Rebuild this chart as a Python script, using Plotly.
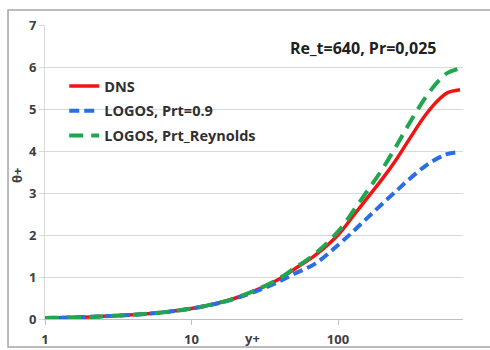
import plotly.graph_objects as go

y_plus = [1, 2, 3, 5, 7, 10, 15, 20, 30, 40, 50, 70, 100, 130, 160, 200, 250, 300, 400, 500, 560, 680]
theta_dns = [0.025, 0.05, 0.075, 0.125, 0.175, 0.25, 0.375, 0.5, 0.74, 0.96, 1.18, 1.52, 2.00, 2.50, 2.90, 3.33, 3.80, 4.23, 4.88, 5.26, 5.39, 5.46]
theta_prt09 = [0.025, 0.05, 0.075, 0.125, 0.175, 0.25, 0.37, 0.49, 0.71, 0.90, 1.07, 1.32, 1.76, 2.12, 2.42, 2.74, 3.05, 3.30, 3.66, 3.86, 3.93, 3.98]
theta_prtrey = [0.025, 0.05, 0.075, 0.125, 0.175, 0.25, 0.375, 0.5, 0.75, 0.97, 1.20, 1.56, 2.08, 2.62, 3.07, 3.56, 4.12, 4.60, 5.30, 5.72, 5.86, 5.97]

names = ["DNS", "LOGOS, Prt=0.9", "LOGOS, Prt_Reynolds"]
colors = ["#f01414", "#2a6ee6", "#20a64e"]
x_ticks = [1, 10, 100]
y_ticks = [0, 1, 2, 3, 4, 5, 6, 7]

FONT = "Open Sans"
fig = go.Figure()
fig.add_trace(go.Scatter(x=y_plus, y=theta_dns, mode="lines", name=names[0], legendgroup="a",
                         line=dict(color=colors[0], width=3.5), line_shape="spline"))
fig.add_trace(go.Scatter(x=y_plus, y=theta_prt09, mode="lines", name=names[1], legendgroup="b",
                         line=dict(color=colors[1], width=4, dash="10px,5px"), line_shape="spline"))
fig.add_trace(go.Scatter(x=y_plus, y=theta_prtrey, mode="lines", name=names[2], legendgroup="c",
                         line=dict(color=colors[2], width=4, dash="14px,8px"), line_shape="spline"))

fig.update_layout(
    width=490, height=350,
    margin=dict(l=45, r=27, t=25, b=31, autoexpand=False),
    paper_bgcolor="white", plot_bgcolor="white",
    font=dict(family=FONT, size=13, color="#404040"),
    showlegend=True,
    legend=dict(x=0.046, y=0.847, xanchor="left", yanchor="top", bgcolor="rgba(0,0,0,0)",
                font=dict(family=FONT, size=14.5, color="#303030", weight="bold"),
                tracegroupgap=3, traceorder="grouped"),
    xaxis=dict(type="log", range=[0, 2.853], tickvals=x_ticks, ticktext=[str(v) for v in x_ticks],
               showgrid=False, showline=True, linecolor="#bfbfbf", linewidth=1, automargin=False,
               ticks="outside", ticklen=5, tickcolor="#bfbfbf", zeroline=False, ticklabelstandoff=3,
               tickfont=dict(family=FONT, size=13, color="#404040", weight="bold")),
    yaxis=dict(range=[0, 7], tickvals=y_ticks, showgrid=True, gridcolor="#d9d9d9", gridwidth=1,
               showline=True, linecolor="#d9d9d9", linewidth=1, ticks="outside", ticklen=5,
               tickcolor="#d9d9d9", zeroline=False, automargin=False,
               tickfont=dict(family=FONT, size=13, color="#404040", weight="bold")),
    annotations=[
        dict(text="Re_t=640, Pr=0,025", x=0.76, y=0.922, xref="paper", yref="paper",
             xanchor="center", yanchor="middle",
             showarrow=False, font=dict(family=FONT, size=16, color="#202020", weight="bold")),
        dict(text="y+", x=0.4976, y=-0.0646, xref="paper", yref="paper", showarrow=False,
             xanchor="center", yanchor="middle",
             font=dict(family=FONT, size=13, color="#404040", weight="bold")),
        dict(text="θ+", x=-0.067, y=0.49, xref="paper", yref="paper", showarrow=False, textangle=-90,
             xanchor="center", yanchor="middle",
             font=dict(family=FONT, size=13, color="#404040", weight="bold")),
    ],
    shapes=[dict(type="rect", xref="paper", yref="paper", x0=-0.0885, x1=1.069, y0=-0.0952, y1=1.051,
                 line=dict(color="#a6a6a6", width=1.5), fillcolor="rgba(0,0,0,0)", layer="below")],
)
fig.write_html("out.html")
